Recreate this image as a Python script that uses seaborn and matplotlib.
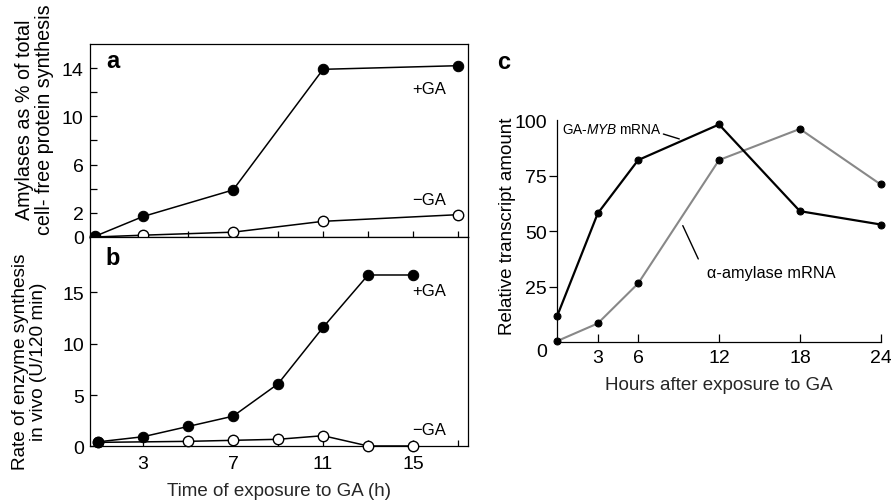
import matplotlib
matplotlib.use("Agg")
import matplotlib.pyplot as plt
import matplotlib.transforms as mtransforms
import seaborn as sns

# ── DATA ──────────────────────────────────────────────────────────────────────

# panel a: cell-free synthesis
A_TIME      = [0.85, 3, 7, 11, 17]
A_PLUS_GA   = [0.05, 1.7, 3.9, 13.9, 14.2]
A_MINUS_GA  = [0.0, 0.15, 0.4, 1.3, 1.85]

# panel b: in vivo synthesis
B_TIME_PLUS  = [1, 3, 5, 7, 9, 11, 13, 15]
B_PLUS_GA    = [0.45, 0.95, 1.95, 2.95, 6.1, 11.6, 16.7, 16.7]
B_TIME_MINUS = [1, 5, 7, 9, 11, 13, 15]
B_MINUS_GA   = [0.4, 0.5, 0.6, 0.7, 1.05, 0.05, 0.05]

# panel c: transcripts
C_HOURS   = [0, 3, 6, 12, 18, 24]
C_MYB     = [12, 58, 82, 98, 59, 53]
C_AMYLASE = [0.6, 8.5, 26.5, 82, 96, 71]

AB_XTICKS      = [3, 5, 7, 9, 11, 13, 15, 17]
AB_XTICKLABELS = ["3", "", "7", "", "11", "", "15", ""]
A_YTICKS       = [0, 2, 4, 6, 8, 10, 12, 14]
A_YTICKLABELS  = ["0", "2", "", "6", "", "10", "", "14"]
B_YTICKS       = [0, 5, 10, 15]
C_XTICKS       = [3, 6, 12, 18, 24]
C_YTICKS       = [0, 25, 50, 75, 100]

GRAY = "#888888"

# ── STYLE ─────────────────────────────────────────────────────────────────────

sns.set_style("ticks")
plt.rcParams.update({
    "font.family":        ["Liberation Sans", "DejaVu Sans"],
    "mathtext.fontset":   "custom",
    "mathtext.rm":        "Liberation Sans",
    "mathtext.it":        "Liberation Sans:italic",
    "axes.linewidth":     0.9,
    "axes.edgecolor":     "black",
    "xtick.color":        "black",
    "ytick.color":        "black",
    "text.color":         "black",
})

TICK_FS  = 14
LABEL_FS = 13.5

fig = plt.figure(figsize=(8.91, 5.02), dpi=100)
ax_a = fig.add_axes([0.1010, 0.5259, 0.4242, 0.3845])
ax_b = fig.add_axes([0.1010, 0.1086, 0.4242, 0.4173], sharex=ax_a)
ax_c = fig.add_axes([0.6255, 0.3161, 0.3630, 0.4428])


def draw_pair(ax, xp, yp, xm, ym):
    common = dict(ax=ax, color="black", linewidth=1.1, marker="o",
                  markersize=7.5, clip_on=False, zorder=3)
    sns.lineplot(x=xm, y=ym, markerfacecolor="white", markeredgecolor="black",
                 markeredgewidth=1.0, **common)
    sns.lineplot(x=xp, y=yp, markerfacecolor="black", markeredgecolor="black",
                 **common)


# ── PANEL a ───────────────────────────────────────────────────────────────────

draw_pair(ax_a, A_TIME, A_PLUS_GA, A_TIME, A_MINUS_GA)
ax_a.set_xlim(0.64, 17.44)
ax_a.set_ylim(0, 16)
ax_a.set_yticks(A_YTICKS)
ax_a.set_yticklabels(A_YTICKLABELS)
ax_a.set_xticks(AB_XTICKS)
ax_a.tick_params(axis="x", direction="in", length=4, width=0.9, labelbottom=False)
ax_a.tick_params(axis="y", direction="in", length=5, width=0.9, pad=4.5,
                 labelsize=TICK_FS)
ax_a.set_xlabel("")
ax_a.set_ylabel("")
ax_a.text(0.042, 0.913, "a", transform=ax_a.transAxes, fontsize=17,
          fontweight="bold", ha="left", va="center")
ax_a.text(14.95, 12.3, "+GA", fontsize=12, ha="left", va="center")
ax_a.text(14.95, 3.1, "\u2212GA", fontsize=12, ha="left", va="center")

# ── PANEL b ───────────────────────────────────────────────────────────────────

draw_pair(ax_b, B_TIME_PLUS, B_PLUS_GA, B_TIME_MINUS, B_MINUS_GA)
ax_b.set_ylim(0, 20.4)
ax_b.set_yticks(B_YTICKS)
ax_b.set_xticks(AB_XTICKS)
ax_b.set_xticklabels(AB_XTICKLABELS)
ax_b.tick_params(axis="x", direction="in", length=4, width=0.9, pad=6,
                 labelsize=TICK_FS, labelbottom=True)
ax_b.tick_params(axis="y", direction="in", length=5, width=0.9, pad=4,
                 labelsize=TICK_FS)
ax_b.set_xlabel("Time of exposure to GA (h)", fontsize=LABEL_FS, labelpad=7)
ax_b.set_ylabel("")
ax_b.text(0.042, 0.903, "b", transform=ax_b.transAxes, fontsize=17,
          fontweight="bold", ha="left", va="center")
ax_b.text(14.95, 15.2, "+GA", fontsize=12, ha="left", va="center")
ax_b.text(14.95, 1.7, "\u2212GA", fontsize=12, ha="left", va="center")

fig.text(0.039, 0.761, "Amylases as % of total\ncell- free protein synthesis",
         rotation=90, ha="center", va="center", fontsize=14.2,
         linespacing=1.05)
fig.text(0.033, 0.280, "Rate of enzyme synthesis\nin vivo (U/120 min)",
         rotation=90, ha="center", va="center", fontsize=13.7,
         linespacing=1.1)

# ── PANEL c ───────────────────────────────────────────────────────────────────

sns.lineplot(x=C_HOURS, y=C_AMYLASE, ax=ax_c, color=GRAY, linewidth=1.5,
             marker="o", markersize=5, markerfacecolor="black",
             markeredgecolor="black", clip_on=False, zorder=3)
sns.lineplot(x=C_HOURS, y=C_MYB, ax=ax_c, color="black", linewidth=1.6,
             marker="o", markersize=5, markerfacecolor="black",
             markeredgecolor="black", clip_on=False, zorder=4)
ax_c.set_xlim(0, 24)
ax_c.set_ylim(0, 100)
ax_c.spines["top"].set_visible(False)
ax_c.spines["right"].set_visible(False)
ax_c.set_xticks(C_XTICKS)
ax_c.set_yticks(C_YTICKS)
ax_c.tick_params(axis="x", direction="in", length=6, width=0.9, pad=5,
                 labelsize=TICK_FS)
ax_c.tick_params(axis="y", direction="out", length=6, width=0.9, pad=1.5,
                 labelsize=TICK_FS)
ax_c.set_yticks([100], minor=True)
ax_c.tick_params(axis="y", which="minor", direction="in", length=5, width=0.9)
yt = ax_c.yaxis.get_major_ticks()
yt[0].tick1line.set_visible(False)
yt[-1].tick1line.set_visible(False)
yt[0].label1.set_transform(yt[0].label1.get_transform() +
                           mtransforms.ScaledTranslation(0, -7 / 100,
                                                         fig.dpi_scale_trans))
ax_c.set_xlabel("Hours after exposure to GA", fontsize=LABEL_FS, labelpad=7)
ax_c.set_ylabel("")
fig.text(0.570, 0.550, "Relative transcript amount", rotation=90,
         ha="center", va="center", fontsize=LABEL_FS)
fig.text(0.558, 0.876, "c", fontsize=17, fontweight="bold",
         ha="left", va="center")

ax_c.text(0.33, 96, r"GA-$\mathit{MYB}$ mRNA", fontsize=9.8,
          ha="left", va="center")
ax_c.annotate("", xy=(9.05, 91.5), xytext=(7.87, 93.7),
              arrowprops=dict(arrowstyle="-", lw=1.0, color="black",
                              shrinkA=0, shrinkB=0))
ax_c.text(11.09, 31.5, "\u03b1-amylase mRNA", fontsize=11.7,
          ha="left", va="center")
ax_c.annotate("", xy=(10.46, 37.5), xytext=(9.31, 52.5),
              arrowprops=dict(arrowstyle="-", lw=1.0, color="black",
                              shrinkA=0, shrinkB=0))

fig.savefig("out.png", dpi=100)
